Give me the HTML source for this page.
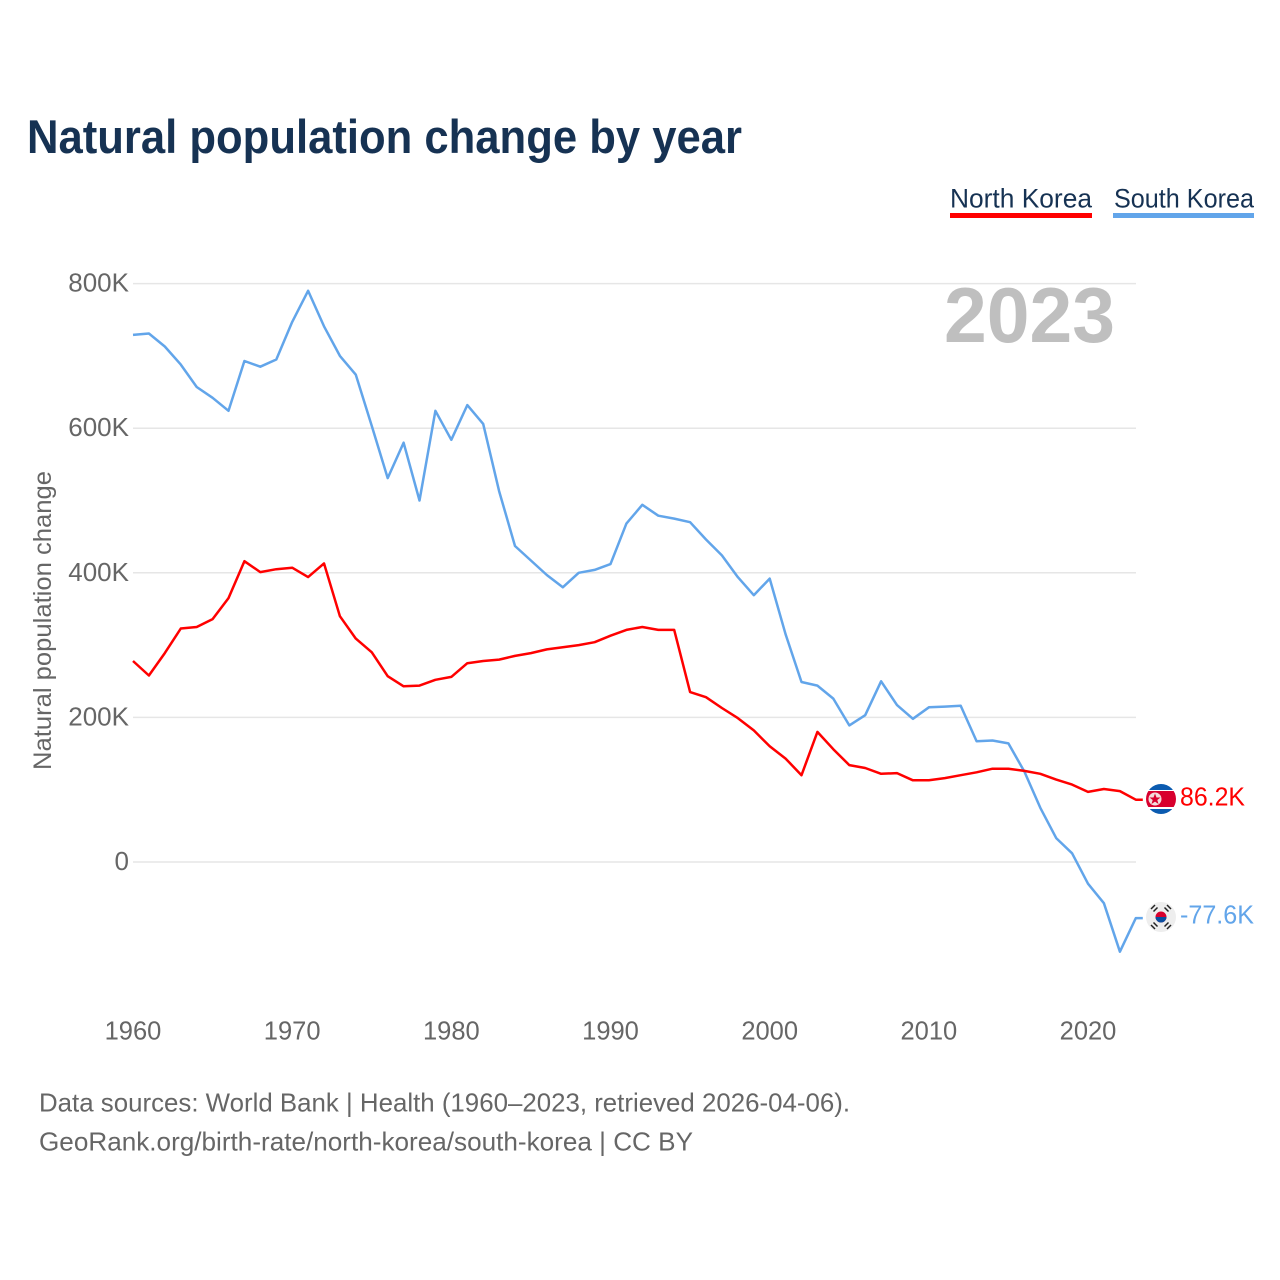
<!DOCTYPE html>
<html lang="en">
<head>
<meta charset="utf-8">
<title>Natural population change by year</title>
<style>
html,body{margin:0;padding:0;background:#fff;}
svg{display:block;font-family:"Liberation Sans",sans-serif;}
</style>
</head>
<body>
<svg id="chart" xmlns="http://www.w3.org/2000/svg" width="1280" height="1280" viewBox="0 0 1280 1280">
  <defs>
    <clipPath id="flag-clip-n"><circle cx="1161" cy="799" r="15"/></clipPath>
    <clipPath id="flag-clip-s"><circle cx="1161" cy="917" r="15"/></clipPath>
  </defs>
  <text x="27" y="153" font-size="47" font-weight="700" fill="#163253" textLength="715" lengthAdjust="spacingAndGlyphs">Natural population change by year</text>

  <g>
    <text x="950" y="207.5" font-size="27" fill="#163253" textLength="142" lengthAdjust="spacingAndGlyphs">North Korea</text>
    <rect x="950" y="213" width="142" height="5" fill="#ff0000"/>
  </g>
  <g>
    <text x="1114" y="207.5" font-size="27" fill="#163253" textLength="140" lengthAdjust="spacingAndGlyphs">South Korea</text>
    <rect x="1113" y="213" width="141" height="5" fill="#62a5ea"/>
  </g>

  <g id="grid"></g>
  <g id="yticks"></g>
  <g id="xticks"></g>

  <text x="1115" y="342" text-anchor="end" font-size="78" font-weight="700" fill="#bfbfbf" textLength="171" lengthAdjust="spacingAndGlyphs">2023</text>

  <text transform="translate(51,770) rotate(-90)" font-size="25" fill="#666666" textLength="299" lengthAdjust="spacingAndGlyphs">Natural population change</text>

  <g id="series"></g>

  <g clip-path="url(#flag-clip-n)">
    <rect x="1146" y="784" width="30" height="30" fill="#ffffff"/>
    <rect x="1146" y="784" width="30" height="6" fill="#0b5bb0"/>
    <rect x="1146" y="809" width="30" height="5" fill="#0b5bb0"/>
    <rect x="1146" y="791" width="30" height="16" fill="#d8002e"/>
    <circle cx="1155" cy="799" r="6.5" fill="#f3dcdc"/>
    <polygon points="1155,793.5 1156.5,797.5 1160.5,797.5 1157.3,800 1158.5,804 1155,801.6 1151.5,804 1152.7,800 1149.5,797.5 1153.5,797.5" fill="#d8002e"/>
  </g>
  <g clip-path="url(#flag-clip-s)">
    <rect x="1146" y="902" width="30" height="30" fill="#eeeeee"/>
    <circle cx="1161" cy="917" r="5.5" fill="#d8002e"/>
    <path d="M1155.5 917a5.5 5.5 0 0 0 11 0z" fill="#0b4fa0"/>
    <g stroke="#222222" stroke-width="1.5">
      <line x1="1151" y1="909" x2="1155" y2="905"/><line x1="1153.5" y1="911.5" x2="1157.5" y2="907.5"/>
      <line x1="1167" y1="905" x2="1171" y2="909"/><line x1="1164.5" y1="907.5" x2="1168.5" y2="911.5"/>
      <line x1="1151" y1="925" x2="1155" y2="929"/><line x1="1153.5" y1="922.5" x2="1157.5" y2="926.5"/>
      <line x1="1167" y1="929" x2="1171" y2="925"/><line x1="1164.5" y1="926.5" x2="1168.5" y2="922.5"/>
    </g>
  </g>

  <text x="1180" y="805.5" font-size="25.5" fill="#ff0000" textLength="65" lengthAdjust="spacingAndGlyphs">86.2K</text>
  <text x="1180" y="923.5" font-size="25.5" fill="#62a5ea" textLength="74" lengthAdjust="spacingAndGlyphs">-77.6K</text>

  <text x="39" y="1111.5" font-size="26" fill="#666666" textLength="811" lengthAdjust="spacingAndGlyphs">Data sources: World Bank | Health (1960–2023, retrieved 2026-04-06).</text>
  <text x="39" y="1150.5" font-size="26" fill="#666666" textLength="654" lengthAdjust="spacingAndGlyphs">GeoRank.org/birth-rate/north-korea/south-korea | CC BY</text>
</svg>
<script>
var startYear = 1960;
var northKorea = [278,258,289,323,325,336,365,416,401,405,407,394,413,340,309,290,257,243,244,252,256,275,278,280,285,289,294,297,300,304,313,321,325,321,321,235,228,213,199,182,160,143,120,180,156,134,130,122,123,113,113,116,120,124,129,129,126,122,114,107,97,101,98,86.2];
var southKorea = [729,731,713,688,657,642,624,693,685,695,747,790,741,700,674,603,531,580,500,624,584,632,606,513,437,417,397,380,400,404,412,468,494,479,475,470,446,424,394,369,392,315,249,244,226,189,203,250,217,198,214,215,216,167,168,164,125,75,33,12,-30,-57,-124,-77.6];
var yTickValues = [0,200,400,600,800];
var yTickLabels = ["0","200K","400K","600K","800K"];
var xTickValues = [1960,1970,1980,1990,2000,2010,2020];

var NS = "http://www.w3.org/2000/svg";
function xScale(year){ return 133 + (year - 1960) * 15.917; }
function yScale(value){ return 862 - value * 0.723; }

function make(tag, attrs, parent){
  var el = document.createElementNS(NS, tag);
  for (var k in attrs) el.setAttribute(k, attrs[k]);
  parent.appendChild(el);
  return el;
}

var gridG = document.getElementById("grid");
var yG = document.getElementById("yticks");
var xG = document.getElementById("xticks");
var seriesG = document.getElementById("series");

yTickValues.forEach(function(v, i){
  var line = make("line", {x1:133, x2:1136, y1:yScale(v), y2:yScale(v), stroke:"#e6e6e6", "stroke-width":1.5}, gridG);
  
  
  var t = make("text", {x:129, y:yScale(v) + 8, "text-anchor":"end", "font-size":26, fill:"#666666"}, yG);
  
  
  t.textContent = yTickLabels[i];
});

xTickValues.forEach(function(y){
  var t = make("text", {x:xScale(y), y:1039.5, "text-anchor":"middle", "font-size":25.5, fill:"#666666"}, xG);
  
  
  t.textContent = String(y);
});

function toPath(values){
  return values.map(function(v, i){
    return (i ? "L" : "M") + xScale(startYear + i).toFixed(1) + " " + yScale(v).toFixed(1);
  }).join(" ");
}

function drawSeries(values, color){
  var last = values.length - 1;
  var d = toPath(values) + " L" + (xScale(startYear + last) + 7).toFixed(1) + " " + yScale(values[last]).toFixed(1);
  return make("path", {d:d, fill:"none", stroke:color, "stroke-width":2.5, "stroke-linejoin":"round"}, seriesG);
}

var southLine = drawSeries(southKorea, "#62a5ea");



var northLine = drawSeries(northKorea, "#ff0000");


</script>
</body>
</html>
